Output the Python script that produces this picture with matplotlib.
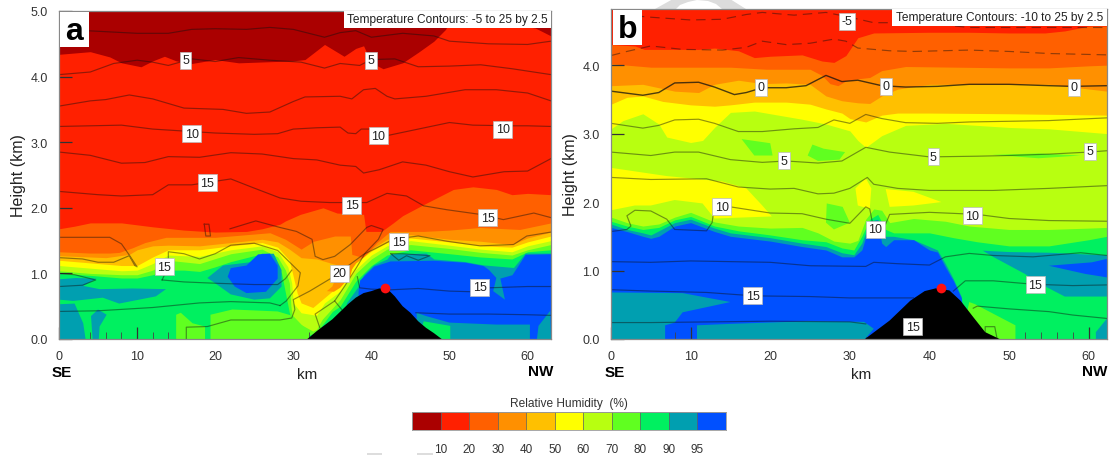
import numpy as np
import matplotlib
matplotlib.use("Agg")
import matplotlib.pyplot as plt
from matplotlib.patches import Polygon, Rectangle

plt.rcParams['font.family'] = ['Liberation Sans', 'DejaVu Sans']

W, H = 1110, 456
COLORS = ['#AA0000', '#FF2000', '#FF6000', '#FF9000', '#FFC000', '#FFFF00',
          '#B8FF10', '#60FF20', '#00F060', '#009FB0', '#0050FF']
CB_LABELS = ['10', '20', '30', '40', '50', '60', '70', '80', '90', '95']
XMAX_A, YMAX_A = 63.0, 5.0
XMAX_B, YMAX_B = 62.3, 4.82

# ---------- Panel a: upper height of each humidity class along the section ----------
A_H10 = [(0,4.34),(4,4.38),(6.5,4.30),(8,4.21),(10.5,4.15),(12,4.24),(13.5,4.31),(15,4.24),(17,4.2),(20,4.26),(23,4.21),(30,4.24),(31.5,4.26),(34,4.49),(36.5,4.31),(38,4.43),(39,4.47),(40,4.21),(41.5,4.12),(44,4.21),(46,4.37),(48,4.54),(49.5,4.72),(50.5,4.95),(52,5.0),(57,5.0),(59,4.78),(61,4.74),(63,4.62)]
A_H20 = [(0,1.68),(2,1.72),(4,1.77),(8,1.77),(12,1.71),(16,1.66),(20,1.63),(24,1.64),(26,1.68),(28.3,1.75),(29,1.80),(30.9,1.9),(33.8,2.0),(35.6,1.92),(39,1.90),(39.3,1.64),(41.3,1.64),(42.8,1.77),(44,1.88),(46.7,2.05),(50.5,2.28),(53,2.32),(56,2.28),(58,2.2),(60,2.22),(63,2.2)]
A_H30 = [(0,1.33),(4,1.31),(6.5,1.31),(7.7,1.32),(9.4,1.39),(11,1.47),(13.7,1.55),(16,1.55),(20,1.55),(24,1.59),(27,1.62),(29,1.52),(31,1.37),(32.6,1.49),(35.3,1.57),(37.3,1.57),(37.5,1.29),(39,1.24),(40.7,1.47),(42.4,1.64),(46.7,1.64),(50,1.66),(53.9,1.7),(59,1.67),(63,1.77)]
A_H40 = [(0,1.27),(6,1.24),(9,1.29),(10,1.36),(12,1.42),(14,1.43),(18,1.42),(22,1.47),(26,1.52),(28,1.48),(29.5,1.37),(31,1.24),(33,1.22),(35,1.15),(36.5,1.1),(37.5,1.0),(38.5,1.2),(40,1.37),(42,1.52),(45,1.59),(50,1.52),(54,1.49),(58,1.44),(60,1.54),(63,1.63)]
A_H50 = [(0,1.2),(4,1.16),(8,1.12),(10,1.12),(12,1.25),(14,1.36),(18,1.36),(22,1.42),(26,1.47),(28,1.40),(29.5,1.2),(30,0.95),(30.5,0.7),(31,0.55),(32.5,0.48),(34,0.63),(36,0.83),(38,1.16),(40,1.34),(42,1.47),(45,1.54),(50,1.48),(54,1.42),(58,1.40),(60,1.48),(63,1.57)]
A_H60 = [(0,1.12),(4,1.08),(8,1.04),(10,1.05),(12,1.15),(14,1.28),(18,1.26),(22,1.36),(26,1.42),(28,1.33),(29.3,1.1),(29.8,0.85),(30,0.55),(31,0.4),(33,0.36),(34,0.55),(36,0.73),(38,1.06),(40,1.28),(42,1.42),(45,1.5),(50,1.43),(54,1.37),(58,1.33),(60,1.42),(63,1.5)]
A_H70 = [(0,1.04),(4,1.0),(8,0.98),(10,0.98),(12,1.05),(14,1.2),(18,1.15),(22,1.3),(26,1.37),(28,1.25),(29,1.05),(29.5,0.85),(29.7,0.5),(30,0.25),(31,0.22),(32.5,0.12),(33,0.15),(33.7,0.3),(36,0.6),(38,1.0),(40,1.22),(42,1.37),(45,1.44),(50,1.38),(54,1.32),(58,1.28),(60,1.36),(63,1.44)]
A_H80 = [(0,1.0),(4,0.97),(8,0.93),(10,0.93),(12,0.98),(14,1.05),(16,1.05),(18,1.03),(20,1.1),(22,1.18),(24,1.24),(26,1.3),(27.5,1.2),(28.5,1.0),(29,0.7),(29.5,0.4),(30.5,0),(33,0.1),(35,0.42),(36,0.5),(38,0.88),(40,1.12),(42,1.28),(45,1.36),(50,1.3),(54,1.25),(58,1.22),(60,1.33),(63,1.36)]
A_H90 = [(0,0),(36.6,0),(36.8,0.55),(38.3,0.8),(39,0.98),(40.3,1.13),(42,1.22),(42.5,1.3),(44,1.3),(47,1.31),(48,1.22),(52,1.18),(54.3,1.13),(58.2,1.09),(59.7,1.31),(63,1.31)]
A_H95 = [(0,0),(38.2,0),(38.3,0.73),(38.5,0.9),(40.3,1.11),(42.4,1.19),(47.9,1.2),(52,1.17),(54.3,1.12),(55,1.06),(56,0.93),(56.5,0.93),(58,0.98),(59.7,1.29),(63,1.3)]

A_PATCH_ORANGE = [(34.3,0.73),(35,0.8),(35.7,1.0),(36.3,1.15),(37.8,1.2),(37.3,0.95),(36,0.78),(35.2,0.72)]
A_PATCH_LIME = [
    [(15,0),(15,0.37),(15.6,0.4),(17.1,0.24),(18.7,0.19),(18.7,0)],
    [(19.4,0),(19.4,0.37),(22.2,0.45),(28,0.42),(30,0.35),(32,0.1),(32,0)],
]
A_PATCH_TEAL = [
    [(0,0.91),(2.2,0.93),(4.8,0.92),(3.1,0.81),(5.2,0.76),(9.4,0.77),(13.7,0.76),(12.4,0.65),(7.7,0.54),(5.6,0.63),(1.8,0.58),(0,0.6)],
    [(0,0.53),(2,0.54),(3.1,0.24),(3.4,0),(0,0)],
    [(4.1,0.35),(5,0.45),(6.1,0.37),(5.2,0.19),(5.1,0),(4.3,0)],
    [(19,0.93),(21,1.12),(24.5,1.17),(26,1.3),(27.5,1.3),(28.5,1.05),(28.5,0.8),(27,0.62),(25,0.6),(22,0.68),(20,0.85)],
    [(56,0.93),(56.5,0.93),(57.1,0.6),(55.6,0.73)],
    [(45.8,0.4),(47,0.35),(50,0.25),(56,0.22),(60.3,0.22),(60.3,0),(45.8,0)],
    [(61.2,0),(61.4,0.2),(62.9,0.43),(63,0)],
]
A_PATCH_BLUE = [(21.6,0.95),(22,1.08),(24,1.12),(25.5,1.29),(27,1.3),(28,1.12),(28,0.92),(26.5,0.72),(24,0.7),(22.5,0.8)]
A_PATCH_GREEN = [(46.7,0.27),(50.1,0.2),(50.1,0),(46,0)]
A_TERRAIN = [(31.8,0),(33,0.12),(35,0.3),(37,0.53),(38,0.63),(39,0.70),(40,0.73),(41,0.77),(42,0.77),(43,0.65),(44,0.5),(45,0.4),(46,0.27),(47,0.17),(48,0.09),(49,0)]
A_PEAK = (41.7, 0.77)

A_LINES = [
    [(3.5,4.70),(10,4.66),(14,4.66),(17,4.72),(20,4.73),(24,4.72),(27,4.75),(30,4.72),(34,4.6),(36,4.67),(38,4.7),(40,4.6),(44,4.66),(48,4.62),(50,4.54),(55,4.5),(60,4.49),(63,4.54)],
    [(0,4.03),(4,4.07),(7,4.2),(10,4.25),(12,4.22),(14,4.17),(17,4.27),(20,4.23),(23,4.29),(27,4.25),(31,4.22),(34,4.13),(36,4.2),(38.5,4.17),(40,4.26),(43,4.27),(46,4.15),(50,4.16),(54,4.18),(58,4.12),(63,4.03)],
    [(0,3.55),(4,3.63),(6,3.65),(9,3.72),(12,3.66),(16,3.52),(21,3.5),(24,3.44),(27,3.46),(30,3.62),(31.5,3.69),(36,3.7),(37.5,3.66),(39,3.8),(40.5,3.82),(42,3.7),(43,3.66),(47,3.7),(52,3.8),(56,3.8),(60,3.75),(63,3.63)],
    [(0,3.24),(4,3.25),(8,3.26),(12,3.2),(16,3.17),(20,3.14),(25,3.12),(28,3.13),(30,3.2),(33,3.22),(36,3.23),(37,3.14),(38,3.13),(38.7,3.2),(40,3.2),(42,3.1),(46,3.2),(50,3.3),(53,3.26),(58,3.25),(60,3.25),(63,3.24)],
    [(0,2.85),(4,2.8),(8,2.68),(11,2.69),(14,2.78),(18,2.77),(22,2.84),(26,2.82),(30,2.75),(33,2.73),(36,2.65),(38,2.63),(39,2.53),(41,2.58),(44,2.7),(47,2.65),(50,2.55),(53,2.47),(57,2.55),(60,2.56),(63,2.75)],
    [(0,2.25),(5,2.2),(8,2.18),(12,2.2),(14,2.35),(17,2.35),(22,2.44),(25,2.3),(28.3,2.15),(31,2.1),(34.7,2.08),(39.4,2.08),(42,2.22),(44.5,2.18),(46.7,2.03),(49.7,1.97),(53.9,1.9),(56.9,1.82),(60.8,1.92),(63,1.85)],
    [(21.9,1.68),(25.2,1.8),(28.3,1.7),(30.4,1.64),(32.4,1.52),(32.8,1.26),(33.8,1.21),(35.3,1.26),(37.3,1.44),(39.4,1.7),(40,1.73),(41.5,1.67),(40.9,1.52),(39.2,1.31),(38.1,1.09),(36.6,0.81),(35.3,0.58),(32.8,0.38),(33.4,0.17)],
    [(35.3,0.58),(36.2,0.45)],
    [(0,1.55),(6.5,1.55),(8,1.45),(9,1.28),(10,1.1),(9.7,1.12),(9,1.27),(7,1.17),(5,1.17),(3,1.22),(0,1.24)],
    [(13.2,0.9),(14,1.1),(14,1.33),(16,1.3),(18,1.22),(20,1.3),(22,1.43),(25,1.46),(28,1.35),(30.9,1.01),(30.6,0.81),(29.1,0.58),(28.3,0.51)],
    [(0,1.0),(2,0.98),(4.7,0.9),(3,0.82),(0,0.8)],
    [(13.2,0.9),(16,0.87),(20,0.85),(25,0.83),(28,0.83),(29,0.92),(29.8,1.05)],
    [(0,0.42),(5,0.43),(12,0.48),(18,0.55),(22,0.57),(27,0.55),(28.3,0.51)],
    [(16.3,0),(16.3,0.18),(19,0.19),(22,0.29),(28.3,0.29),(29.8,0.32),(30.2,0.45),(30,0.6),(32.1,0.73),(34.9,0.93),(37.3,1.14),(39,1.29),(40.7,1.39),(42.8,1.52),(46,1.57),(49.7,1.49),(53.9,1.42),(58.2,1.44),(59.9,1.57),(63,1.63)],
    [(42.5,1.3),(43.5,1.2),(44.5,1.27),(46,1.2),(47.5,1.27),(44,1.3),(42.5,1.3)],
    [(38.2,0.95),(38.5,0.78),(40,0.76),(42.5,0.75),(46,0.77),(50,0.73),(53,0.72),(55,0.78),(60,0.8),(63,0.8)],
    [(45.7,0.4),(50,0.38),(55,0.38),(60,0.37),(63,0.36)],
    [(18.6,1.75),(19.2,1.75),(19.4,1.57),(18.8,1.57),(18.6,1.75)],
]
A_LABELS = [(16.2,4.25,'5'),(39.9,4.25,'5'),(17,3.13,'10'),(40.9,3.1,'10'),(56.8,3.2,'10'),
            (19,2.38,'15'),(37.5,2.04,'15'),(54.9,1.85,'15'),(43.5,1.48,'15'),(13.5,1.1,'15'),
            (53.9,0.79,'15'),(35.9,1.0,'20')]

# ---------- Panel b ----------
B_H20 = [(0,4.3),(3,4.28),(4.2,4.23),(11,4.23),(13,4.25),(16,4.21),(18,4.11),(20,4.13),(24,4.15),(26.5,4.06),(28,4.04),(29.5,4.14),(31,4.4),(33,4.47),(40,4.48),(45,4.48),(50,4.47),(54.5,4.47),(57,4.5),(60,4.57),(62.3,4.57)]
B_H30 = [(0,4.02),(5,3.97),(10,3.97),(15,3.97),(19.5,3.94),(25,3.94),(26.5,3.85),(27.5,3.73),(28.5,3.7),(29.5,3.77),(31,3.8),(32.5,3.82),(34,3.92),(37,3.98),(50,3.96),(55,3.96),(60,3.99),(62.3,4.0)]
B_H40 = [(0,3.7),(4,3.72),(8,3.62),(11,3.6),(13,3.72),(16,3.78),(19,3.73),(22,3.74),(25,3.72),(27,3.55),(29,3.48),(31,3.45),(32.5,3.44),(34,3.55),(36,3.65),(40,3.72),(50,3.72),(55,3.72),(62.3,3.62)]
B_H50 = [(0,3.43),(2,3.53),(4,3.55),(6.5,3.47),(10,3.42),(13,3.4),(15,3.42),(18,3.46),(22,3.46),(25,3.43),(27,3.36),(29,3.3),(30,3.22),(32,3.17),(34,3.27),(36,3.3),(40,3.3),(50,3.29),(62.3,3.27)]
B_H60 = [(0,3.07),(1.5,3.19),(4,3.29),(6,3.14),(7,2.95),(10,2.87),(11.5,2.9),(13,3.09),(15,3.31),(18,3.33),(24,3.21),(27,3.14),(30,3.04),(31,2.9),(32,2.8),(34,2.97),(37,3.12),(42,3.15),(50,3.09),(55,3.07),(62.3,3.0)]
B_H70 = [(0,1.78),(2,1.70),(4,1.65),(6,1.68),(8,1.78),(10,1.85),(13,1.71),(16,1.65),(20,1.62),(24,1.63),(26,1.55),(28,1.43),(30,1.4),(31,1.44),(32,1.75),(33,1.9),(34,1.88),(35,1.7),(38,1.76),(42,1.72),(45,1.65),(50,1.6),(55,1.6),(60,1.62),(62.3,1.63)]
B_H80 = [(0,1.72),(2,1.65),(4,1.6),(6,1.63),(8,1.74),(10,1.79),(13,1.65),(16,1.58),(20,1.52),(24,1.45),(27,1.42),(29,1.33),(30.5,1.3),(31.5,1.5),(32.5,1.75),(33.5,1.82),(34.5,1.6),(35.5,1.55),(40,1.55),(43,1.48),(46,1.42),(50,1.36),(55,1.36),(60,1.45),(62.3,1.5)]
B_H90 = [(0,1.68),(2,1.6),(4,1.55),(5,1.52),(6,1.58),(8,1.7),(10,1.75),(13,1.62),(15,1.55),(20,1.48),(24,1.4),(27,1.35),(29,1.26),(30.5,1.23),(31.5,1.4),(32.5,1.72),(33.5,1.75),(34.5,1.5),(35.5,1.5),(38,1.45),(40,1.35),(41,1.3),(42,1.1),(43,0.88),(44,0.62),(44.5,0),(62.3,0)]
B_H95 = [(0,1.63),(2,1.57),(4,1.5),(5,1.47),(6,1.5),(8,1.65),(10,1.7),(13,1.57),(15,1.5),(20,1.43),(24,1.35),(27,1.3),(29,1.2),(30.5,1.2),(31.5,1.3),(32.5,1.68),(33.5,1.7),(34,1.4),(34.5,1.35),(35.5,1.45),(38,1.45),(40,1.3),(41,1.27),(42,1.05),(43,0.85),(44,0.6),(44.4,0),(62.3,0)]

B_PATCH_YELLOW = [
    [(0,2.5),(7,2.38),(14,2.3),(17,2.2),(19,1.95),(20.2,1.79),(13,1.76),(11.5,1.98),(8,2.03),(5,1.95),(3,1.95),(0,1.88)],
    [(30.7,2.2),(31,1.95),(32.5,1.9),(32.7,2.2),(32,2.35)],
    [(34.5,2.19),(36.3,2.17),(38,2.15),(41.5,2.0),(38,1.95),(35,1.93)],
]
B_PATCH_LIME = [
    [(16.4,2.92),(20,2.86),(20.3,2.68),(18,2.68)],
    [(25.3,2.84),(26.7,2.78),(29.4,2.73),(28.7,2.62),(26,2.6),(24.7,2.68)],
    [(47.9,2.69),(53.7,2.71),(59,2.68),(53.7,2.64)],
    [(27.1,1.98),(29.1,1.93),(30,1.7),(28,1.6),(27,1.7)],
    [(45,0.54),(45.7,0.51),(50.8,0.2),(50.8,0),(44,0)],
]
B_PATCH_TEAL = [
    [(0,0.68),(9,0.67),(15,0.54),(9,0.39),(8,0.24),(6.8,0.2),(6.8,0),(0,0)],
    [(10.8,0),(10.8,0.2),(14.8,0.22),(24.7,0.26),(31.8,0.25),(33,0.15),(31.9,0)],
    [(46.7,1.29),(50,1.27),(55,1.26),(62.3,1.22),(62.3,0.62),(57,0.62),(54,0.8),(52,0.95),(48,1.2)],
    [(60.9,0),(60.9,0.1),(62.3,0.3),(62.3,0)],
]
B_PATCH_BLUE = [(55,1.07),(60.4,1.12),(62.3,1.17),(62.3,0.9),(59.6,0.95)]
B_TERRAIN = [(31.9,0),(35,0.27),(37.6,0.56),(39.4,0.7),(40.8,0.74),(42.5,0.71),(43.9,0.56),(45.5,0.32),(47,0.1),(48.8,0)]
B_PEAK = (41.5, 0.75)

B_DASHED = [
    [(3,4.72),(5,4.7),(10,4.66),(14,4.67),(17,4.74),(19,4.77),(23,4.73),(27,4.77),(30,4.7),(33,4.62),(37,4.62),(40,4.61),(45,4.55),(62.3,4.55)],
    [(0,4.14),(2,4.2),(5,4.28),(9,4.23),(14,4.22),(17,4.26),(19,4.35),(22,4.3),(25,4.32),(28,4.38),(29.5,4.35),(31,4.25),(35,4.21),(38,4.2),(45,4.22),(50,4.2),(55,4.17),(62.3,4.15)],
]
B_ZERO = [(0,3.62),(4,3.56),(6,3.6),(8,3.74),(11,3.75),(13,3.68),(15.5,3.57),(17,3.6),(19,3.67),(22,3.67),(24.5,3.7),(27,3.85),(29,3.76),(31,3.78),(34,3.7),(37,3.68),(41,3.69),(45,3.72),(50,3.72),(55,3.7),(58,3.69),(62.3,3.7)]
B_LINES = [
    [(0,3.15),(4,3.08),(6,3.12),(8,3.2),(11,3.21),(13,3.15),(16,3.03),(19,3.03),(23,3.07),(26,3.09),(28,3.2),(30,3.15),(32,3.28),(34,3.22),(37,3.16),(41,3.15),(45,3.17),(50,3.18),(55,3.19),(62.3,3.23)],
    [(0,2.73),(5,2.68),(8,2.73),(11,2.73),(15,2.62),(19,2.58),(22,2.6),(26,2.57),(29,2.6),(32,2.8),(35,2.73),(40,2.66),(46,2.67),(50,2.68),(55,2.7),(60,2.73),(62.3,2.75)],
    [(0,2.36),(5,2.33),(12,2.34),(16,2.22),(20,2.19),(23,2.2),(26,2.12),(28,2.13),(30,2.2),(32.2,2.36),(33,2.26),(36,2.2),(40,2.17),(48,2.17),(55,2.2),(62.3,2.24)],
    [(0,1.57),(2,1.6),(2.5,1.65),(2,1.8),(3,1.88),(5,1.87),(7,1.75),(8,1.6),(12,1.58),(12.7,1.7),(13,1.95),(15,1.93),(20,1.84),(24,1.83),(27,1.75),(30,1.69),(32,1.93),(32.5,1.9),(33,1.6)],
    [(34.5,1.68),(35,1.82),(40,1.85),(46,1.82),(50,1.76),(55,1.73),(62.3,1.72)],
    [(0,1.13),(5,1.12),(10,1.14),(20,1.12),(25,1.07),(32,1.06),(33,1.12),(36,1.1),(40,1.08),(42,1.2),(45,1.25),(48,1.22),(53,1.2),(59,1.26),(62.3,1.22)],
    [(0,0.72),(5,0.7),(12,0.68),(18,0.63),(25,0.62),(30,0.6),(36,0.6),(38,0.6)],
    [(43,0.7),(44.5,0.85),(48,0.85),(53,0.8),(58,0.78),(62.3,0.79)],
    [(45.5,0.45),(46,0.48),(50,0.44),(55,0.4),(58,0.35),(62.3,0.3)],
    [(0,0.24),(5,0.24),(20,0.26),(30,0.25),(32,0.22)],
    [(47,0),(47,0.18),(48.2,0.18),(48.5,0)],
]
B_LABELS = [(29.6,4.64,'-5'),(18.8,3.68,'0'),(34.6,3.69,'0'),(58.2,3.68,'0'),(21.7,2.6,'5'),
            (40.5,2.66,'5'),(60.2,2.74,'5'),(13.9,1.93,'10'),(45.4,1.8,'10'),(33.2,1.6,'10'),
            (17.8,0.63,'15'),(53.3,0.79,'15'),(37.9,0.18,'15')]


def px_axes(fig, left, top, right, bottom):
    return fig.add_axes([left / W, 1 - bottom / H, (right - left) / W, (bottom - top) / H])


def band(ax, pts, color):
    p = np.array(pts, float)
    ax.fill_between(p[:, 0], 0, p[:, 1], color=color, lw=0, zorder=1)


def patch(ax, pts, color, z=2):
    ax.add_patch(Polygon(pts, closed=True, fc=color, ec='none', zorder=z))


def lines(ax, groups, style='-', alpha=0.45, lw=0.85):
    for g in groups:
        p = np.array(g, float)
        ax.plot(p[:, 0], p[:, 1], ls=style, color='#101010', lw=lw, alpha=alpha, zorder=4,
                solid_joinstyle='round', dashes=(8, 5) if style == '--' else (None, None))


def labels(ax, items):
    for x, y, s in items:
        ax.text(x, y, s, ha='center', va='center', fontsize=9, color='#222222', zorder=6,
                bbox=dict(boxstyle='square,pad=0.2', fc='white', ec='#bbbbbb', lw=0.5))


def dress(ax, xmax, ymax, ticks_y):
    ax.set_xlim(0, xmax)
    ax.set_ylim(0, ymax)
    ax.set_xticks(np.arange(0, 61, 10))
    ax.set_xticks(np.arange(0, 63, 2), minor=True)
    ax.set_yticks(ticks_y)
    ax.set_yticklabels([f'{t:.1f}' for t in ticks_y])
    ax.tick_params(axis='both', which='major', direction='in', length=9, width=0.9,
                   color='#333333', labelsize=9, labelcolor='#333333', pad=8)
    ax.tick_params(axis='x', which='minor', direction='in', length=5, width=0.6, color='#444444')
    ax.set_ylabel('Height (km)', fontsize=11.5, color='#222222', labelpad=3)
    for s in ax.spines.values():
        s.set_color('#888888')
        s.set_linewidth(0.9)
        s.set_zorder(8)


fig = plt.figure(figsize=(W / 100, H / 100), dpi=100, facecolor='white')

# faint watermark remnants behind the panels
bg = fig.add_axes([0, 0, 1, 1], zorder=-1)
bg.set_xlim(0, W)
bg.set_ylim(H, 0)
bg.axis('off')
bg.add_patch(Polygon([(655, 10), (673, 0), (730, 0), (746, 10), (722, 10), (716, 5), (708, 2),
                      (697, 1), (688, 3), (680, 6), (676, 10)], fc='#dcdcdc', ec='none'))
bg.add_patch(Rectangle((367, 454.5), 15, 1.5, fc='#dddddd', ec='none'))
bg.add_patch(Rectangle((417, 454.5), 16, 1.5, fc='#dddddd', ec='none'))

# Panel a
ax = px_axes(fig, 59, 12, 551, 340)
ax.set_facecolor(COLORS[0])
for pts, c in zip([A_H10, A_H20, A_H30, A_H40, A_H50, A_H60, A_H70, A_H80, A_H90, A_H95],
                  COLORS[1:]):
    band(ax, pts, c)
patch(ax, A_PATCH_ORANGE, COLORS[3])
for t in A_PATCH_LIME:
    patch(ax, t, COLORS[7])
for t in A_PATCH_TEAL:
    patch(ax, t, COLORS[9])
patch(ax, A_PATCH_BLUE, COLORS[10], 3)
patch(ax, A_PATCH_GREEN, COLORS[8], 3)
lines(ax, A_LINES)
patch(ax, A_TERRAIN, 'black', 5)
ax.plot(*A_PEAK, 'o', color='#FF1010', ms=7, mec='none', zorder=7)
labels(ax, A_LABELS)
dress(ax, XMAX_A, YMAX_A, [0, 1, 2, 3, 4, 5])

# Panel b
ax = px_axes(fig, 611, 10, 1107, 340)
ax.set_facecolor(COLORS[1])
for pts, c in zip([B_H20, B_H30, B_H40, B_H50, B_H60, B_H70, B_H80, B_H90, B_H95], COLORS[2:]):
    band(ax, pts, c)
for t in B_PATCH_YELLOW:
    patch(ax, t, COLORS[5])
for t in B_PATCH_LIME:
    patch(ax, t, COLORS[7])
for t in B_PATCH_TEAL:
    patch(ax, t, COLORS[9])
patch(ax, B_PATCH_BLUE, COLORS[10], 3)
lines(ax, B_DASHED, style='--')
lines(ax, [B_ZERO], alpha=0.75, lw=1.0)
lines(ax, B_LINES)
patch(ax, B_TERRAIN, 'black', 5)
ax.plot(*B_PEAK, 'o', color='#FF1010', ms=7, mec='none', zorder=7)
labels(ax, B_LABELS)
dress(ax, XMAX_B, YMAX_B, [0, 1, 2, 3, 4])

# Overlay: panel letters, headers, side labels
ov = fig.add_axes([0, 0, 1, 1], zorder=10)
ov.set_xlim(0, W)
ov.set_ylim(H, 0)
ov.axis('off')
ov.patch.set_alpha(0)
for x0, y0, w, h, letter in [(60, 13, 29, 35, 'a'), (613, 11, 29, 35, 'b')]:
    ov.add_patch(Rectangle((x0, y0), w, h, fc='white', ec='none'))
    ov.text(x0 + w / 2, y0 + h / 2 + 1, letter, ha='center', va='center', fontsize=23,
            fontweight='bold', color='black')
for x0, x1, y0, y1, s in [(344, 551, 12, 29, 'Temperature Contours: -5 to 25 by 2.5'),
                          (892, 1107, 10, 27, 'Temperature Contours: -10 to 25 by 2.5')]:
    ov.add_patch(Rectangle((x0, y0), x1 - x0, y1 - y0, fc='white', ec='none'))
    ov.text((x0 + x1) / 2, (y0 + y1) / 2, s, ha='center', va='center', fontsize=8.6, color='#222222')
for x, y, s, b in [(62, 373, 'SE', True), (541, 372, 'NW', True), (307, 375, 'km', False),
                   (615, 373, 'SE', True), (1095, 372, 'NW', True), (861, 375, 'km', False)]:
    ov.text(x, y, s, ha='center', va='center', fontsize=11, color='black' if b else '#222222',
            fontweight='bold' if b else 'normal')

# Colour key
cb = px_axes(fig, 412, 413, 726, 431)
cb.bar(np.arange(len(COLORS)), np.ones(len(COLORS)), width=1, color=COLORS, edgecolor='#555555', linewidth=0.4)
cb.set_xlim(-0.5, len(COLORS) - 0.5)
cb.set_ylim(0, 1)
cb.set_yticks([])
cb.set_xticks(np.arange(len(CB_LABELS)) + 0.5)
cb.set_xticklabels(CB_LABELS, fontsize=8.5, color='#333333')
cb.tick_params(axis='x', length=0, pad=9.5)
for s in cb.spines.values():
    s.set_color('#999999')
    s.set_linewidth(0.6)
cb.set_title('Relative Humidity  (%)', fontsize=8.6, color='#333333', pad=4)

fig.savefig('out.png', dpi=100)
